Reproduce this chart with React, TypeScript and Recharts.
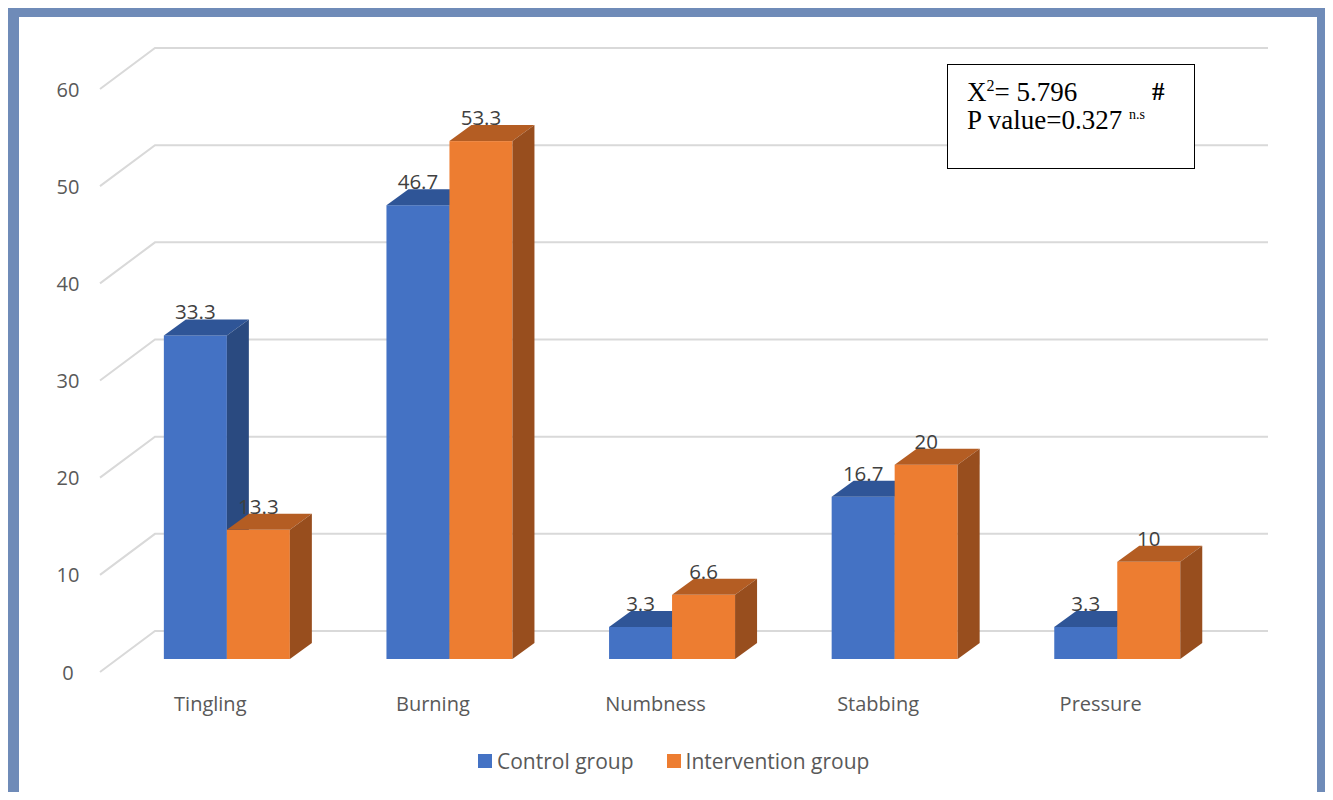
import { Bar, BarChart, CartesianGrid, LabelList, Legend, XAxis, YAxis } from 'recharts'

const categories = ['Tingling', 'Burning', 'Numbness', 'Stabbing', 'Pressure']
const controlGroup = [33.3, 46.7, 3.3, 16.7, 3.3]
const interventionGroup = [13.3, 53.3, 6.6, 20, 10]
const yTicks = [0, 10, 20, 30, 40, 50, 60]

const data = categories.map((name, i) => ({
  name,
  control: controlGroup[i],
  intervention: interventionGroup[i],
}))

// depth of each bar and of the back wall (px)
const DX = 22
const DY = 16

const bar3d = (front: string, top: string, side: string) => (props: any) => {
  const { x, y, width, height } = props
  if (!height) return <g />
  return (
    <g>
      <rect x={x} y={y} width={width} height={height} fill={front} />
      <polygon
        points={`${x},${y} ${x + DX},${y - DY} ${x + width + DX},${y - DY} ${x + width},${y}`}
        fill={top}
      />
      <polygon
        points={`${x + width},${y} ${x + width + DX},${y - DY} ${x + width + DX},${y + height - DY} ${x + width},${y + height}`}
        fill={side}
      />
    </g>
  )
}

const gridLine = (props: any) => {
  const { x1, x2, y1, key } = props
  return (
    <path
      key={key}
      d={`M${x1 - 16},${y1 + 13} L${x1 + 39},${y1 - 28} L${x2 + 39},${y1 - 28}`}
      stroke="#d9d9d9"
      strokeWidth={2}
      fill="none"
    />
  )
}

const YTick = (props: any) => (
  <text
    x={props.x - 48}
    y={props.y + 13}
    textAnchor="middle"
    dominantBaseline="central"
    fontSize={20}
    fill="#595959"
  >
    {props.payload.value}
  </text>
)

const XTick = (props: any) => (
  <text
    x={props.x - 17}
    y={props.y + 44}
    textAnchor="middle"
    dominantBaseline="central"
    fontSize={20}
    fill="#595959"
  >
    {props.payload.value}
  </text>
)

const valueLabel = (props: any) => {
  const { x, y, width, value } = props
  return (
    <text
      x={x + width / 2}
      y={y - 24}
      textAnchor="middle"
      dominantBaseline="central"
      fontSize={20.5}
      fill="#404040"
    >
      {value}
    </text>
  )
}

const LegendContent = (props: any) => (
  <div style={{ display: 'flex', justifyContent: 'flex-start', paddingLeft: 478 }}>
    {(props.payload ?? []).map((p: any) => (
      <div key={p.value} style={{ display: 'flex', alignItems: 'center', marginRight: 33 }}>
        <span style={{ width: 14, height: 14, background: p.color, marginRight: 5 }} />
        <span style={{ fontSize: 21, color: '#595959' }}>{p.value}</span>
      </div>
    ))}
  </div>
)

export default function App() {
  return (
    <div
      style={{
        position: 'relative',
        width: 1333,
        height: 800,
        margin: -8,
        overflow: 'hidden',
        background: '#fff',
        fontFamily: '"Open Sans", sans-serif',
      }}
    >
      <div
        style={{
          position: 'absolute',
          left: 7,
          top: 7,
          width: 1323,
          height: 793,
          boxSizing: 'border-box',
          borderStyle: 'solid',
          borderColor: '#6f8bb8',
          borderWidth: '10px 13px 7px 12px',
        }}
      />
      <div style={{ position: 'absolute', left: 0, top: 0 }}>
        <BarChart
          width={1333}
          height={800}
          data={data}
          margin={{ top: 76, right: 104, left: 56, bottom: 0 }}
          barCategoryGap="21.5%"
          barGap={0}
        >
          <CartesianGrid vertical={false} horizontal={gridLine} />
          <YAxis
            width={60}
            domain={[0, 60]}
            ticks={yTicks}
            interval={0}
            axisLine={false}
            tickLine={false}
            tickSize={0}
            tickMargin={0}
            tick={<YTick />}
          />
          <XAxis
            dataKey="name"
            height={141}
            axisLine={false}
            tickLine={false}
            tickSize={0}
            tickMargin={0}
            tick={<XTick />}
          />
          <Legend
            verticalAlign="middle"
            align="center"
            layout="horizontal"
            content={<LegendContent />}
            wrapperStyle={{ position: 'absolute', top: 747, left: 0, width: 1333 }}
          />
          <Bar
            dataKey="control"
            name="Control group"
            fill="#4472c4"
            isAnimationActive={false}
            shape={bar3d('#4472c4', '#2f5597', '#2a4a80')}
          >
            <LabelList dataKey="control" content={valueLabel} />
          </Bar>
          <Bar
            dataKey="intervention"
            name="Intervention group"
            fill="#ed7d31"
            isAnimationActive={false}
            shape={bar3d('#ed7d31', '#b45d23', '#984e1e')}
          >
            <LabelList dataKey="intervention" content={valueLabel} />
          </Bar>
        </BarChart>
      </div>
      <div
        style={{
          position: 'absolute',
          left: 947,
          top: 64,
          width: 248,
          height: 105,
          boxSizing: 'border-box',
          border: '1.5px solid #000',
          background: '#fff',
          fontFamily: '"Liberation Serif", "Times New Roman", serif',
          fontSize: 27,
          lineHeight: '28px',
          color: '#000',
          padding: '13px 0 0 19px',
        }}
      >
        <div style={{ position: 'relative' }}>
          X<sup style={{ fontSize: 16, lineHeight: 0 }}>2</sup>= 5.796
          <span style={{ position: 'absolute', left: 185, fontSize: 25, fontWeight: 'bold' }}>#</span>
        </div>
        <div>
          P value=0.327 <sup style={{ fontSize: 14, lineHeight: 0 }}>n.s</sup>
        </div>
      </div>
    </div>
  )
}
